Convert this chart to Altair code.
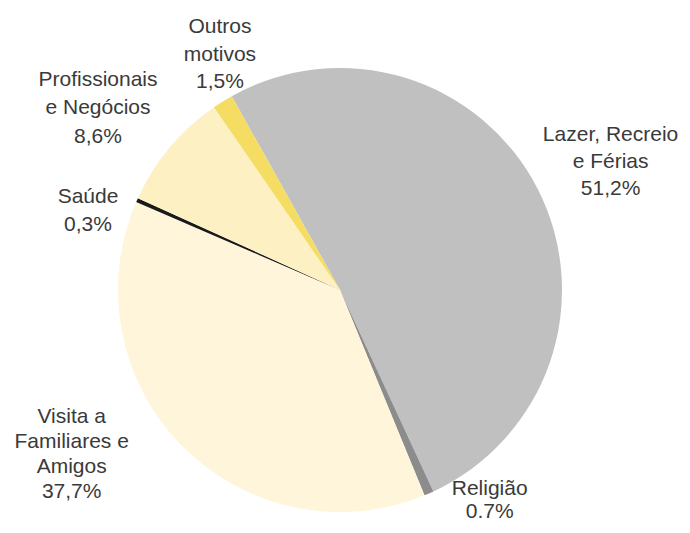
import math
import altair as alt
import pandas as pd

# ---- data -------------------------------------------------------------
categories = [
    "Lazer, Recreio e Férias",
    "Religião",
    "Visita a Familiares e Amigos",
    "Saúde",
    "Profissionais e Negócios",
    "Outros motivos",
]
values = [51.2, 0.7, 37.7, 0.3, 8.6, 1.5]
name_lines = [
    "Lazer, Recreio\ne Férias",
    "Religião",
    "Visita a\nFamiliares e\nAmigos",
    "Saúde",
    "Profissionais\ne Negócios",
    "Outros\nmotivos",
]
pct_labels = ["51,2%", "0.7%", "37,7%", "0,3%", "8,6%", "1,5%"]
colors = ["#c0c0c0", "#8c8c8c", "#fff5da", "#1a1a1a", "#fdf0c2", "#f4dd62"]

df = pd.DataFrame({
    "cat": categories,
    "value": values,
    "order": list(range(len(categories))),
    "label": [n + "\n" + p for n, p in zip(name_lines, pct_labels)],
})

# ---- layout / style ---------------------------------------------------
start = math.radians(-29.2)
theta_scale = alt.Scale(domain=[0, 100], range=[start, start + 2 * math.pi])
color_scale = alt.Scale(domain=categories, range=colors)
FONT = "Liberation Sans"
TEXT_COLOR = "#3a3a3a"

# per-label placement: radius, dx, dy, lineHeight
placement = {
    0: (306, -2, -16, 27),
    1: (267.5, 42.5, -46, 23),
    2: (314.5, -44, -93.5, 25),
    3: (264, -10.6, 14, 28),
    4: (302.5, -10, -16, 28.5),
    5: (264.3, 19.6, -38.5, 27.5),
}

arc = alt.Chart(df).mark_arc(strokeWidth=0).encode(
    theta=alt.Theta("value:Q", stack=True, scale=theta_scale),
    color=alt.Color("cat:N", scale=color_scale, legend=None),
    order=alt.Order("order:Q"),
)

texts = []
for i, (r, dx, dy, lh) in placement.items():
    t = (
        alt.Chart(df)
        .transform_window(cum="sum(value)", sort=[alt.SortField("order")], frame=[None, 0])
        .transform_calculate(mid="datum.cum - datum.value / 2")
        .transform_filter(alt.datum.order == i)
        .mark_text(
            radius=r, dx=dx, dy=dy, font=FONT, fontSize=21, color=TEXT_COLOR,
            lineBreak="\n", lineHeight=lh, align="center", baseline="middle",
        )
        .encode(
            theta=alt.Theta("mid:Q", stack=False, scale=theta_scale),
            text="label:N",
        )
    )
    texts.append(t)

chart = (
    alt.layer(arc, *texts)
    .properties(
        width=664,
        height=444,
        padding={"left": 0, "top": 60, "right": 10, "bottom": 13},
        autosize=alt.AutoSizeParams(type="none"),
    )
    .configure_view(strokeWidth=0)
)

chart.save("out.html", embed_options={"renderer": "svg", "actions": False})
